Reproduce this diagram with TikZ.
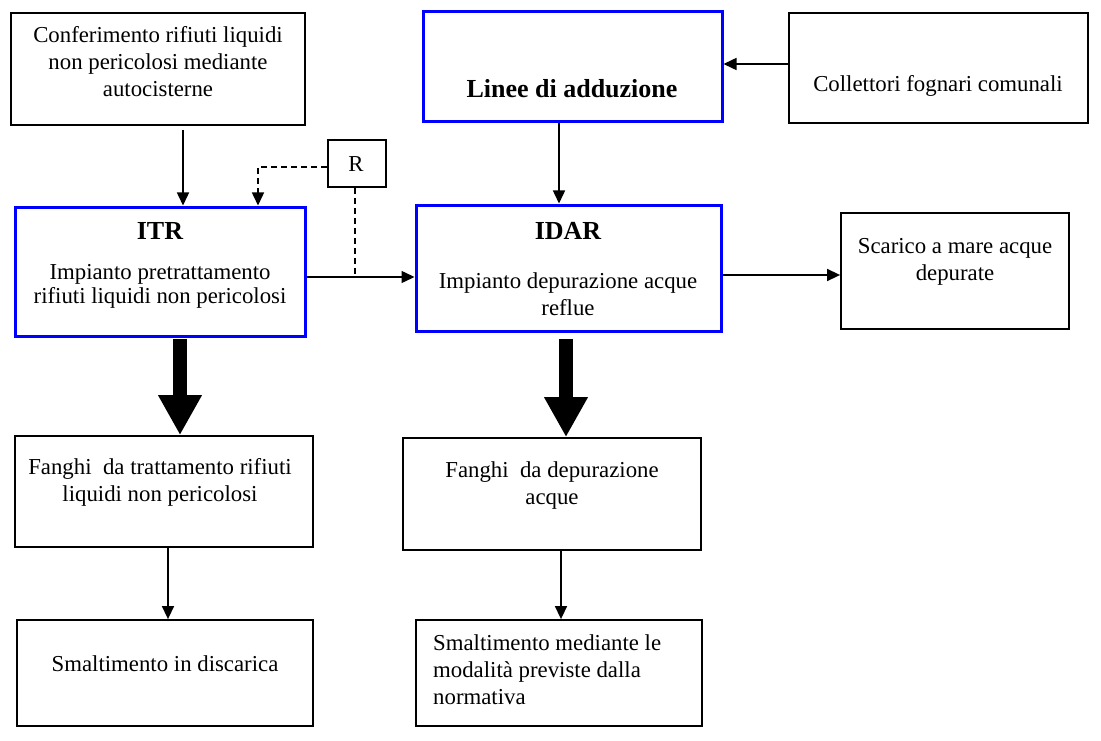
\documentclass[tikz,border=0pt]{standalone}
\usepackage{fontspec}
\setmainfont{Liberation Serif}
\usetikzlibrary{arrows.meta,fit}
\begin{document}
\begin{tikzpicture}[x=1pt,y=-1pt,
  bb/.style={draw=black,line width=1.8pt,inner sep=0pt},
  bl/.style={draw=blue,line width=3pt,inner sep=0pt},
  txt/.style={font=\fontsize{22.8}{27}\selectfont,align=center,inner sep=0pt},
  ttl/.style={font=\fontsize{26}{28}\selectfont\bfseries,inner sep=0pt},
  arr/.style={line width=1.5pt,-{Triangle[width=12pt,length=13pt]}},
  darr/.style={arr,dash pattern=on 6pt off 4pt},
  dline/.style={line width=1.5pt,dash pattern=on 6pt off 4pt},
  big/.style={line width=14pt,-{Triangle[width=41pt,length=40pt]}}]
\useasboundingbox (0,0) rectangle (1101,741);
% boxes
\node[bb,fit={(11,13)(305,125)}] (conf) {};
\node[bl,fit={(423,12)(722,122)}] (linee) {};
\node[bb,fit={(789,13)(1088,123)}] (coll) {};
\node[bb,fit={(328,140)(386,187)}] (r) {};
\node[bl,fit={(15,207)(305,336)}] (itr) {};
\node[bl,fit={(416,205)(721,331)}] (idar) {};
\node[bb,fit={(841,213)(1069,329)}] (scar) {};
\node[bb,fit={(15,436)(313,547)}] (fl) {};
\node[bb,fit={(403,438)(701,550)}] (fr) {};
\node[bb,fit={(17,620)(313,726)}] (sl) {};
\node[bb,fit={(416,620)(702,726)}] (sr) {};
% texts
\node[txt] (tconf) at (158,62) {Conferimento rifiuti liquidi\\non pericolosi mediante\\autocisterne};
\node[ttl] (tlinee) at (572,89) {Linee di adduzione};
\node[txt] (tcoll) at (938,86) {Collettori fognari comunali};
\node[txt] (tr) at (356,164) {R};
\node[ttl] (titr) at (160,231) {ITR};
\node[txt,font=\fontsize{22.8}{24}\selectfont] (titr2) at (160,286) {Impianto pretrattamento\\rifiuti liquidi non pericolosi};
\node[ttl] (tidar) at (568,231) {IDAR};
\node[txt] (tidar2) at (568,294) {Impianto depurazione acque\\reflue};
\node[txt] (tscar) at (955,262) {Scarico a mare acque\\depurate};
\node[txt] (tfl) at (160,482) {Fanghi\ \ da trattamento rifiuti\\liquidi non pericolosi};
\node[txt] (tfr) at (552,486) {Fanghi\ \ da depurazione\\acque};
\node[txt] (tsl) at (165,664) {Smaltimento in discarica};
\node[txt,align=left,anchor=west] (tsr) at (433,670) {Smaltimento mediante le\\modalità previste dalla\\normativa};
% connectors
\draw[arr,shorten <=4pt] (183,0 |- conf.south) -- (183,0 |- itr.north);
\draw[darr] (r.west |- 0,167) -- (258,167) -- (258,0 |- itr.north);
\draw[dline] (355,0 |- r.south) -- (355,277);
\draw[arr] (itr.east |- 0,277) -- (idar.west |- 0,277);
\draw[arr] (coll.west |- 0,64) -- (linee.east |- 0,64);
\draw[arr] (559,0 |- linee.south) -- (559,0 |- idar.north);
\draw[arr] (idar.east |- 0,275) -- (scar.west |- 0,275);
\draw[arr] (168,0 |- fl.south) -- (168,0 |- sl.north);
\draw[arr] (561,0 |- fr.south) -- (561,0 |- sr.north);
\draw[big,shorten <=1pt] (180,0 |- itr.south) -- (180,0 |- fl.north);
\draw[big,shorten <=6pt] (566,0 |- idar.south) -- (566,0 |- fr.north);
\end{tikzpicture}
\end{document}
